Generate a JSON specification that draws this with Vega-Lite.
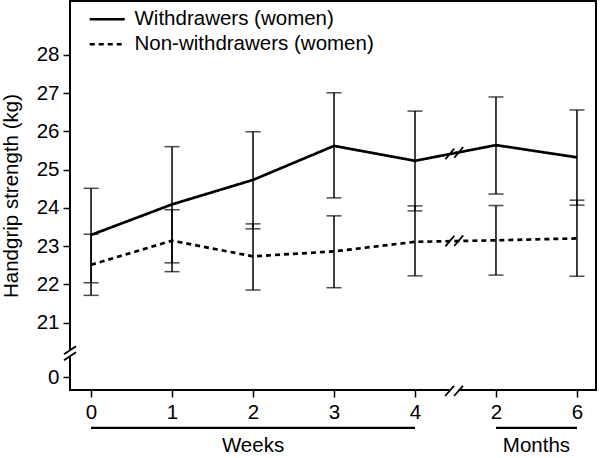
{
  "$schema": "https://vega.github.io/schema/vega-lite/v6.json",
  "autosize": "none",
  "padding": {"left": 70, "top": 1, "right": 4, "bottom": 68},
  "width": 526,
  "height": 389,
  "background": "white",
  "config": {
    "font": "Liberation Sans",
    "view": {"stroke": "black", "strokeWidth": 2},
    "axis": {"domain": false, "grid": false, "tickColor": "black", "tickWidth": 1.5, "tickSize": 7, "labelColor": "black", "labelFontSize": 20.5, "titleFontSize": 20.5, "titleFontWeight": "normal", "titleColor": "black"}
  },
  "datasets": {
    "main": [
      {"group": "Withdrawers (women)", "t": 0, "v": 23.29, "lo": 22.04, "hi": 24.51},
      {"group": "Withdrawers (women)", "t": 1, "v": 24.09, "lo": 22.56, "hi": 25.60},
      {"group": "Withdrawers (women)", "t": 2, "v": 24.73, "lo": 23.45, "hi": 25.99},
      {"group": "Withdrawers (women)", "t": 3, "v": 25.62, "lo": 24.26, "hi": 27.01},
      {"group": "Withdrawers (women)", "t": 4, "v": 25.23, "lo": 23.92, "hi": 26.53},
      {"group": "Withdrawers (women)", "t": 5, "v": 25.64, "lo": 24.36, "hi": 26.90},
      {"group": "Withdrawers (women)", "t": 6, "v": 25.32, "lo": 24.07, "hi": 26.56},
      {"group": "Non-withdrawers (women)", "t": 0, "v": 22.51, "lo": 21.71, "hi": 23.31},
      {"group": "Non-withdrawers (women)", "t": 1, "v": 23.14, "lo": 22.33, "hi": 23.95},
      {"group": "Non-withdrawers (women)", "t": 2, "v": 22.73, "lo": 21.85, "hi": 23.58},
      {"group": "Non-withdrawers (women)", "t": 3, "v": 22.86, "lo": 21.91, "hi": 23.79},
      {"group": "Non-withdrawers (women)", "t": 4, "v": 23.11, "lo": 22.22, "hi": 24.05},
      {"group": "Non-withdrawers (women)", "t": 5, "v": 23.15, "lo": 22.24, "hi": 24.06},
      {"group": "Non-withdrawers (women)", "t": 6, "v": 23.20, "lo": 22.21, "hi": 24.20}
    ],
    "gaps": [
      {"t": 4.426, "t2": 4.538, "v": -0.69, "v2": -1.31},
      {"t": -0.309, "t2": -0.211, "v": 7.64, "v2": 10.31}
    ],
    "slashes": [
      {"t": 4.371, "t2": 4.482, "v": -1.46, "v2": -0.69},
      {"t": 4.482, "t2": 4.593, "v": -1.46, "v2": -0.69},
      {"t": -0.334, "t2": -0.186, "v": 8.78, "v2": 11.84},
      {"t": -0.334, "t2": -0.186, "v": 6.49, "v2": 9.55},
      {"t": 4.375, "t2": 4.485, "v": 25.27, "v2": 25.55},
      {"t": 4.485, "t2": 4.595, "v": 25.31, "v2": 25.59},
      {"t": 4.375, "t2": 4.485, "v": 22.99, "v2": 23.27},
      {"t": 4.485, "t2": 4.595, "v": 23.00, "v2": 23.28}
    ],
    "groups": [
      {"label": "Weeks", "t": 0, "t2": 4, "tm": 2, "v": -3.92, "vt": -5.77},
      {"label": "Months", "t": 5, "t2": 6, "tm": 5.5, "v": -3.92, "vt": -5.77}
    ]
  },
  "layer": [
    {
      "data": {"name": "main"},
      "mark": {"type": "rule", "color": "black", "strokeWidth": 1.5},
      "encoding": {
        "x": {"field": "t", "type": "quantitative",
              "scale": {"domain": [-0.26, 6.235], "nice": false, "zero": false},
              "axis": {"values": [0, 1, 2, 3, 4, 5, 6], "format": "d", "labelExpr": "datum.value == 5 ? '2' : datum.label", "title": null, "labelPadding": 5}},
        "y": {"field": "lo", "type": "quantitative",
              "scale": {"domain": [-1, 0, 21, 29.41], "range": [389, 376, 321.5, 0], "nice": false, "zero": false},
              "axis": {"values": [0, 21, 22, 23, 24, 25, 26, 27, 28], "format": "d", "title": "Handgrip strength (kg)", "labelPadding": 4, "titlePadding": 15}},
        "y2": {"field": "hi"}
      }
    },
    {
      "data": {"name": "main"},
      "mark": {"type": "tick", "orient": "horizontal", "color": "black", "size": 15, "thickness": 1.5},
      "encoding": {
        "x": {"field": "t", "type": "quantitative"},
        "y": {"field": "lo", "type": "quantitative"}
      }
    },
    {
      "data": {"name": "main"},
      "mark": {"type": "tick", "orient": "horizontal", "color": "black", "size": 15, "thickness": 1.5},
      "encoding": {
        "x": {"field": "t", "type": "quantitative"},
        "y": {"field": "hi", "type": "quantitative"}
      }
    },
    {
      "data": {"name": "main"},
      "mark": {"type": "line", "color": "black", "strokeWidth": 2.7},
      "encoding": {
        "x": {"field": "t", "type": "quantitative"},
        "y": {"field": "v", "type": "quantitative"},
        "strokeDash": {"field": "group", "type": "nominal",
          "scale": {"domain": ["Withdrawers (women)", "Non-withdrawers (women)"], "range": [[1, 0], [5, 4]]},
          "legend": {"orient": "none", "legendX": 27, "legendY": 8, "title": null, "padding": 0,
                     "symbolType": "M-4,0H4", "symbolSize": 76.6, "symbolStrokeWidth": 2.7, "symbolStrokeColor": "black",
                     "labelFontSize": 20.5, "labelColor": "black", "labelOffset": 17, "rowPadding": 4, "labelLimit": 0}}
      }
    },
    {
      "data": {"name": "gaps"},
      "mark": {"type": "rect", "color": "white"},
      "encoding": {
        "x": {"field": "t", "type": "quantitative"},
        "x2": {"field": "t2"},
        "y": {"field": "v", "type": "quantitative"},
        "y2": {"field": "v2"}
      }
    },
    {
      "data": {"name": "slashes"},
      "mark": {"type": "rule", "color": "black", "strokeWidth": 1.8},
      "encoding": {
        "x": {"field": "t", "type": "quantitative"},
        "x2": {"field": "t2"},
        "y": {"field": "v", "type": "quantitative"},
        "y2": {"field": "v2"}
      }
    },
    {
      "data": {"name": "groups"},
      "mark": {"type": "rule", "color": "black", "strokeWidth": 2.2},
      "encoding": {
        "x": {"field": "t", "type": "quantitative"},
        "x2": {"field": "t2"},
        "y": {"field": "v", "type": "quantitative"}
      }
    },
    {
      "data": {"name": "groups"},
      "mark": {"type": "text", "color": "black", "fontSize": 20.5, "baseline": "alphabetic", "align": "center"},
      "encoding": {
        "x": {"field": "tm", "type": "quantitative"},
        "y": {"field": "vt", "type": "quantitative"},
        "text": {"field": "label"}
      }
    }
  ]
}
